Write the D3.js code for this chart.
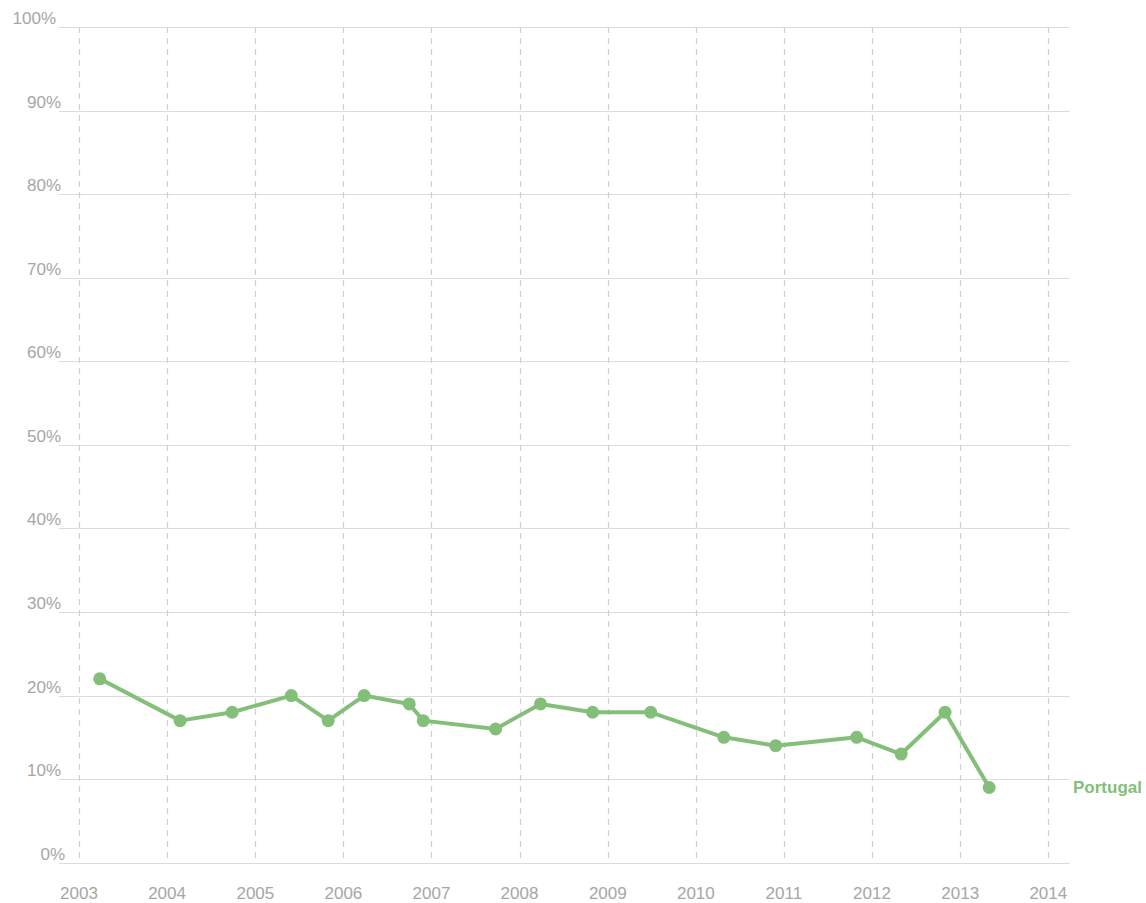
<!DOCTYPE html>
<html>
<head>
<meta charset="utf-8">
<script src="https://cdn.jsdelivr.net/npm/d3@7"></script>
<style>
	body { margin: 0; background: #fff; }
	svg { display: block; font-family: Arial, "Liberation Sans", sans-serif; }
	.grid-h { stroke: #dcdcdc; stroke-width: 1.2; }
	.grid-v { stroke: #d0d0d0; stroke-width: 1.2; stroke-dasharray: 6 5; }
	.tick-label { fill: #a6a6a6; font-size: 17px; }
</style>
</head>
<body>
<div id="chart"></div>
<script>
(function() {
	// survey dates and share (%) for Portugal
	let dates = ['2003-03-28', '2004-02-24', '2004-09-27', '2005-05-30', '2005-10-30', '2006-03-28',
		'2006-10-01', '2006-11-28', '2007-09-24', '2008-03-28', '2008-10-30', '2009-06-28',
		'2010-04-27', '2010-11-28', '2011-10-30', '2012-05-01', '2012-10-30', '2013-05-01'];
	let values = [22, 17, 18, 20, 17, 20, 19, 17, 16, 19, 18, 18, 15, 14, 15, 13, 18, 9];
	let seriesName = 'Portugal';
	let yTicks = [0, 10, 20, 30, 40, 50, 60, 70, 80, 90, 100];
	let xTicks = [2003, 2004, 2005, 2006, 2007, 2008, 2009, 2010, 2011, 2012, 2013, 2014];

	let width = 1146, height = 903;
	let color = '#84bf79';
	let parse = d3.timeParse('%Y-%m-%d');

	let data = dates.map((d, i) => ({ date: parse(d), value: values[i] }));

	let svg = d3.select('#chart')
		.append('svg')
		.attr('width', width)
		.attr('height', height);

	let x = d3.scaleTime()
		.domain([new Date(2003, 0, 1), new Date(2014, 0, 1)])
		.range([79, 1048.3]);

	let y = d3.scaleLinear()
		.domain([0, 100])
		.range([862.7, 27]);

	// horizontal grid + labels
	svg.selectAll('.grid-h')
		.data(yTicks)
		.enter()
		.append('line')
		.attr('class', 'grid-h')
		.attr('x1', 59)
		.attr('x2', 1070)
		.attr('y1', d => Math.round(y(d)) + 0.5)
		.attr('y2', d => Math.round(y(d)) + 0.5);

	// labels sit a little off the axis: shorter ones shift right, the long one left
	let labelX = d => d === 0 ? 65 : (d === 100 ? 56 : 61);

	svg.selectAll('.y-label')
		.data(yTicks)
		.enter()
		.append('text')
		.attr('class', 'tick-label')
		.attr('text-anchor', 'end')
		.attr('x', labelX)
		.attr('y', d => y(d) - 3)
		.text(d => d + '%');

	// vertical dashed grid + year labels
	svg.selectAll('.grid-v')
		.data(xTicks)
		.enter()
		.append('line')
		.attr('class', 'grid-v')
		.attr('x1', d => Math.round(x(new Date(d, 0, 1))) + 0.5)
		.attr('x2', d => Math.round(x(new Date(d, 0, 1))) + 0.5)
		.attr('y1', y(100))
		.attr('y2', y(0));

	svg.selectAll('.x-label')
		.data(xTicks)
		.enter()
		.append('text')
		.attr('class', 'tick-label')
		.attr('text-anchor', 'middle')
		.attr('x', d => x(new Date(d, 0, 1)))
		.attr('y', 899)
		.text(d => d);

	// the series
	let line = d3.line()
		.x(d => x(d.date))
		.y(d => y(d.value));

	svg.append('path')
		.datum(data)
		.attr('fill', 'none')
		.attr('stroke', color)
		.attr('stroke-width', 4)
		.attr('stroke-linejoin', 'round')
		.attr('d', line);

	svg.selectAll('.dot')
		.data(data)
		.enter()
		.append('circle')
		.attr('class', 'dot')
		.attr('cx', d => x(d.date))
		.attr('cy', d => y(d.value))
		.attr('r', 6.5)
		.attr('fill', color);

	let last = data[data.length - 1];
	svg.append('text')
		.attr('x', 1073)
		.attr('y', y(last.value) + 6)
		.attr('fill', color)
		.style('font-size', '17px')
		.style('font-weight', 'bold')
		.text(seriesName);
})();
</script>
</body>
</html>
